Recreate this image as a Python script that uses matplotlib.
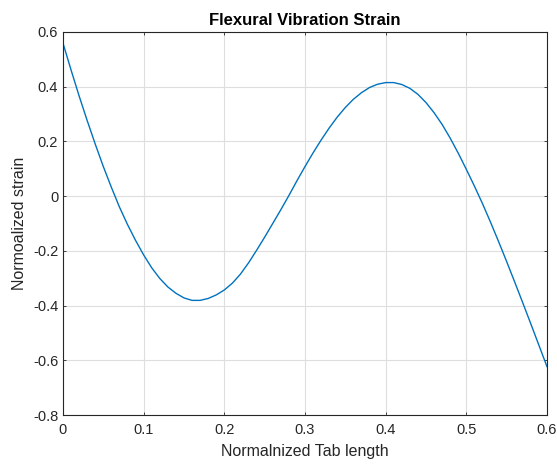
import matplotlib.pyplot as plt

# values
tab_length = [
    0.00, 0.01, 0.02, 0.03, 0.04, 0.05, 0.06, 0.07, 0.08, 0.09,
    0.10, 0.11, 0.12, 0.13, 0.14, 0.15, 0.16, 0.17, 0.18, 0.19,
    0.20, 0.21, 0.22, 0.23, 0.24, 0.25, 0.26, 0.27, 0.28, 0.29,
    0.30, 0.31, 0.32, 0.33, 0.34, 0.35, 0.36, 0.37, 0.38, 0.39,
    0.40, 0.41, 0.42, 0.43, 0.44, 0.45, 0.46, 0.47, 0.48, 0.49,
    0.50, 0.51, 0.52, 0.53, 0.54, 0.55, 0.56, 0.57, 0.58, 0.59,
    0.60,
]
strain = [
    0.559, 0.461, 0.366, 0.276, 0.190, 0.108, 0.032, -0.040, -0.104, -0.162,
    -0.215, -0.262, -0.301, -0.332, -0.355, -0.372, -0.381, -0.381, -0.374, -0.361,
    -0.343, -0.318, -0.285, -0.244, -0.198, -0.150, -0.100, -0.050, 0.002, 0.056,
    0.108, 0.158, 0.205, 0.249, 0.289, 0.324, 0.354, 0.378, 0.397, 0.409,
    0.415, 0.415, 0.408, 0.394, 0.372, 0.342, 0.305, 0.262, 0.212, 0.157,
    0.098, 0.037, -0.027, -0.095, -0.166, -0.239, -0.314, -0.390, -0.467, -0.545,
    -0.623,
]
x_ticks = [0, 0.1, 0.2, 0.3, 0.4, 0.5, 0.6]
x_tick_labels = ["0", "0.1", "0.2", "0.3", "0.4", "0.5", "0.6"]
y_ticks = [-0.8, -0.6, -0.4, -0.2, 0, 0.2, 0.4, 0.6]
y_tick_labels = ["-0.8", "-0.6", "-0.4", "-0.2", "0", "0.2", "0.4", "0.6"]

plt.rcParams["font.family"] = ["Liberation Sans", "DejaVu Sans"]
dark = "#262626"

fig = plt.figure(figsize=(5.57, 4.66), dpi=100)
ax = fig.add_axes([0.1131, 0.1094, 0.8689, 0.822])

ax.plot(tab_length, strain, color="#0072BD", linewidth=1.0)

ax.set_xlim(0, 0.6)
ax.set_ylim(-0.8, 0.6)
ax.set_xticks(x_ticks, x_tick_labels)
ax.set_yticks(y_ticks, y_tick_labels)
ax.grid(True, color="#dedede", linewidth=0.8)
ax.set_axisbelow(True)

ax.tick_params(direction="in", length=2.5, width=0.6, colors=dark,
               labelsize=10.5, top=True, right=True)
ax.tick_params(axis="x", pad=6)
ax.tick_params(axis="y", pad=3.5)
for s in ax.spines.values():
    s.set_color(dark)
    s.set_linewidth(0.8)

ax.set_title("Flexural Vibration Strain", fontsize=12, fontweight="bold",
             color="black", pad=5)
ax.set_xlabel("Normalnized Tab length", fontsize=11.5, color=dark, labelpad=5)
ax.set_ylabel("Normoalized strain", fontsize=11.5, color=dark, labelpad=4)

fig.savefig("out.png", dpi=100)
